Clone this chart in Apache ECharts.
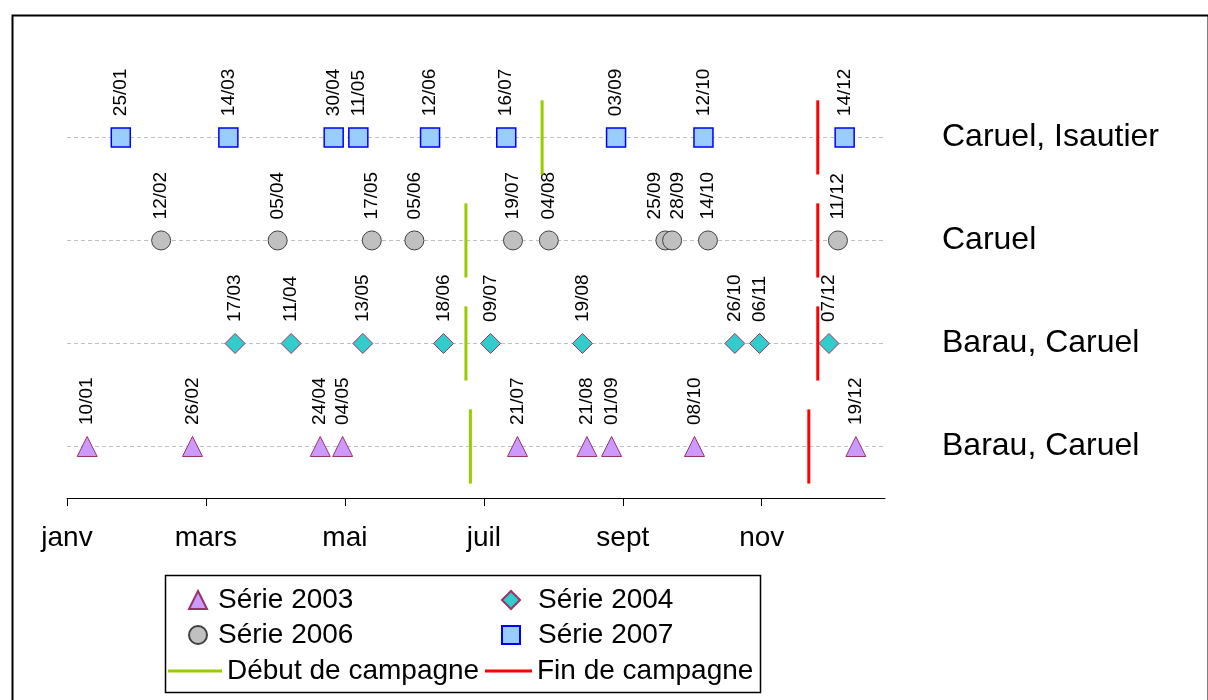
<!DOCTYPE html>
<html>
<head>
<meta charset="utf-8">
<script src="https://cdn.jsdelivr.net/npm/echarts@6/dist/echarts.min.js"></script>
<style>
  html, body { margin: 0; padding: 0; background: #fff; }
  #chart { width: 1208px; height: 700px; }
</style>
</head>
<body>
<div id="chart"></div>
<script>
// dates des prélèvements (jj/mm), une liste par série
const serie2003 = ['10/01', '26/02', '24/04', '04/05', '21/07', '21/08', '01/09', '08/10', '19/12']
const serie2004 = ['17/03', '11/04', '13/05', '18/06', '09/07', '19/08', '26/10', '06/11', '07/12']
const serie2006 = ['12/02', '05/04', '17/05', '05/06', '19/07', '04/08', '25/09', '28/09', '14/10', '11/12']
const serie2007 = ['25/01', '14/03', '30/04', '11/05', '12/06', '16/07', '03/09', '12/10', '14/12']

// début / fin de campagne, une date par ligne (2003, 2004, 2006, 2007)
const debutCampagne = ['30/06', '28/06', '28/06', '01/08']
const finCampagne = ['28/11', '02/12', '02/12', '02/12']

// libellés des lignes (de bas en haut)
const rowNames = ['Barau, Caruel', 'Barau, Caruel', 'Caruel', 'Caruel, Isautier']

// axe des x : jour de l'année, graduations tous les 62 jours
const monthTicks = [0, 62, 124, 186, 248, 310]
const monthLabels = ['janv', 'mars', 'mai', 'juil', 'sept', 'nov']

const monthStart = [0, 31, 59, 90, 120, 151, 181, 212, 243, 273, 304, 334]
const day = (s) => {
  const [d, m] = s.split('/').map(Number)
  return monthStart[m - 1] + d - 1
}

// décalage horizontal des étiquettes trop proches (px)
const labelShift = { '25/09': -11, '28/09': 6 }

const FONT = '"Liberation Sans", Arial, sans-serif'

// série de points avec étiquettes verticales
const pointSeries = (name, dates, row, symbol, fill, border, bw) => ({
  type: 'scatter',
  name: name,
  symbol: symbol,
  symbolSize: symbol === 'rect' || symbol === 'circle' ? 19 : 20,
  data: dates.map((s) => {
    const item = { value: [day(s), row, s] }
    // l'offset est dans le repère tourné : y local = horizontal
    if (labelShift[s]) item.label = { offset: [0, labelShift[s]] }
    return item
  }),
  itemStyle: { color: fill, borderColor: border, borderWidth: bw, opacity: 1 },
  label: {
    show: true,
    position: 'top',
    distance: 11,
    rotate: 90,
    align: 'left',
    verticalAlign: 'middle',
    formatter: (p) => p.value[2],
    fontSize: 19,
    fontFamily: FONT,
    color: '#000'
  },
  // ligne pointillée de la rangée
  markLine: {
    silent: true,
    z: 1,
    symbol: 'none',
    label: { show: false },
    lineStyle: { color: '#c0c0c0', type: [4, 3], width: 1 },
    data: [{ yAxis: row }]
  },
  emphasis: { disabled: true },
  z: 2
})

// traits verticaux début / fin de campagne
const campaignSeries = (name, dates, color) => ({
  type: 'custom',
  name: name,
  data: dates.map((s, i) => [day(s), i + 1]),
  itemStyle: { color: color },
  z: 3,
  renderItem: (params, api) => {
    const x = api.value(0)
    const y = api.value(1)
    const a = api.coord([x, y + 0.36])
    const b = api.coord([x, y - 0.36])
    return {
      type: 'line',
      shape: { x1: a[0], y1: a[1], x2: b[0], y2: b[1] },
      style: { stroke: color, lineWidth: 3 }
    }
  }
})

const legendItem = (name, left, top, opts) => Object.assign({
  data: [{ name: name }],
  left: left,
  top: top,
  padding: 0,
  itemWidth: 18,
  itemHeight: 18,
  selectedMode: false,
  textStyle: { fontSize: 28, color: '#000', fontFamily: FONT }
}, opts || {})

const mChart = echarts.init(document.getElementById('chart'))

const options = {
  animation: false,
  textStyle: { fontFamily: FONT },
  grid: { left: 67, right: 323, top: 55, bottom: 202, outerBoundsMode: 'none' },
  xAxis: {
    type: 'value',
    min: 0,
    max: 365,
    axisLine: { show: true, lineStyle: { color: '#000', width: 1 } },
    axisTick: { show: true, customValues: monthTicks, length: 8, lineStyle: { color: '#000' } },
    axisLabel: {
      customValues: monthTicks,
      formatter: (v) => monthLabels[monthTicks.indexOf(v)],
      fontSize: 28,
      color: '#000',
      margin: 26
    },
    splitLine: { show: false }
  },
  yAxis: {
    type: 'value',
    min: 0.5,
    max: 4.8,
    position: 'right',
    axisLine: { show: false },
    axisTick: { show: false },
    splitLine: { show: false },
    axisLabel: {
      customValues: [1, 2, 3, 4],
      formatter: (v) => rowNames[v - 1],
      fontSize: 32,
      color: '#000',
      margin: 57,
      align: 'left'
    }
  },
  legend: [
    legendItem('Série 2003', 188, 586, { textStyle: { fontSize: 28, color: '#000', fontFamily: FONT, padding: [0, 0, 0, 6] } }),
    legendItem('Série 2004', 501, 586, { textStyle: { fontSize: 28, color: '#000', fontFamily: FONT, padding: [0, 0, 0, 13] } }),
    legendItem('Série 2006', 188, 621, { textStyle: { fontSize: 28, color: '#000', fontFamily: FONT, padding: [0, 0, 0, 6] } }),
    legendItem('Série 2007', 501, 621, { textStyle: { fontSize: 28, color: '#000', fontFamily: FONT, padding: [0, 0, 0, 13] } }),
    legendItem('Début de campagne', 168, 657, { data: [{ name: 'Début de campagne', icon: 'rect' }], itemWidth: 54, itemHeight: 3 }),
    legendItem('Fin de campagne', 485, 657, { data: [{ name: 'Fin de campagne', icon: 'rect' }], itemWidth: 47, itemHeight: 3 })
  ],
  graphic: [
    // cadre extérieur
    { type: 'rect', left: 10, top: 13, shape: { width: 1196, height: 686 }, style: { fill: 'none', stroke: '#000', lineWidth: 2 }, silent: true },
    // cadre de la légende
    { type: 'rect', left: 163, top: 573, shape: { width: 595, height: 117 }, style: { fill: 'none', stroke: '#000', lineWidth: 1.5 }, silent: true }
  ],
  series: [
    pointSeries('Série 2003', serie2003, 1, 'triangle', '#cc99ff', '#993366', 1),
    pointSeries('Série 2004', serie2004, 2, 'diamond', '#33cccc', '#993366', 1),
    pointSeries('Série 2006', serie2006, 3, 'circle', '#c0c0c0', '#404040', 1),
    pointSeries('Série 2007', serie2007, 4, 'rect', '#99ccff', '#0000ff', 1.5),
    campaignSeries('Début de campagne', debutCampagne, '#99cc00'),
    campaignSeries('Fin de campagne', finCampagne, '#ff0000')
  ]
}

mChart.setOption(options)
</script>
</body>
</html>
